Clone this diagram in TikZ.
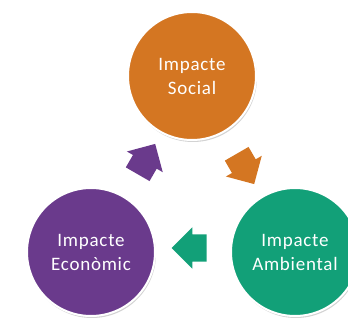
\documentclass[tikz,border=0pt]{standalone}
\usepackage{fontspec}
\setmainfont{Carlito}[LetterSpace=4]
\usetikzlibrary{shapes.arrows,shadows}
\definecolor{corange}{HTML}{D47622}
\definecolor{cpurple}{HTML}{6A3A8C}
\definecolor{cgreen}{HTML}{12A078}
\tikzset{
  bubble/.style={circle, minimum size=128pt, inner sep=0pt, draw=white, line width=2pt,
    text=white, align=center, font=\fontsize{19}{24}\selectfont,
    drop shadow={shadow xshift=1pt, shadow yshift=-2pt, opacity=0.35}},
  cyclearrow/.style={single arrow, minimum height=35pt, minimum width=41pt,
    inner xsep=0pt, inner ysep=13.5pt, text height=0pt, text depth=0pt, text width=0pt,
    single arrow head extend=7pt, single arrow head indent=0pt, draw=none}
}
\begin{document}
\begin{tikzpicture}[x=1pt,y=-1pt]
\useasboundingbox (0,0) rectangle (348,320);
\node[bubble, fill=corange] (s) at (192,76) {Impacte\\Social};
\node[bubble, fill=cpurple] (e) at (91,252) {Impacte\\Econòmic};
\node[bubble, fill=cgreen] (a) at (295,252) {Impacte\\Ambiental};
\node[cyclearrow, fill=corange, rotate=-60] (ar1) at (242,163) {};
\node[cyclearrow, fill=cgreen, rotate=180] (ar2) at (196,248) {};
\node[cyclearrow, fill=cpurple, rotate=60] (ar3) at (143,165) {};
\end{tikzpicture}
\end{document}
